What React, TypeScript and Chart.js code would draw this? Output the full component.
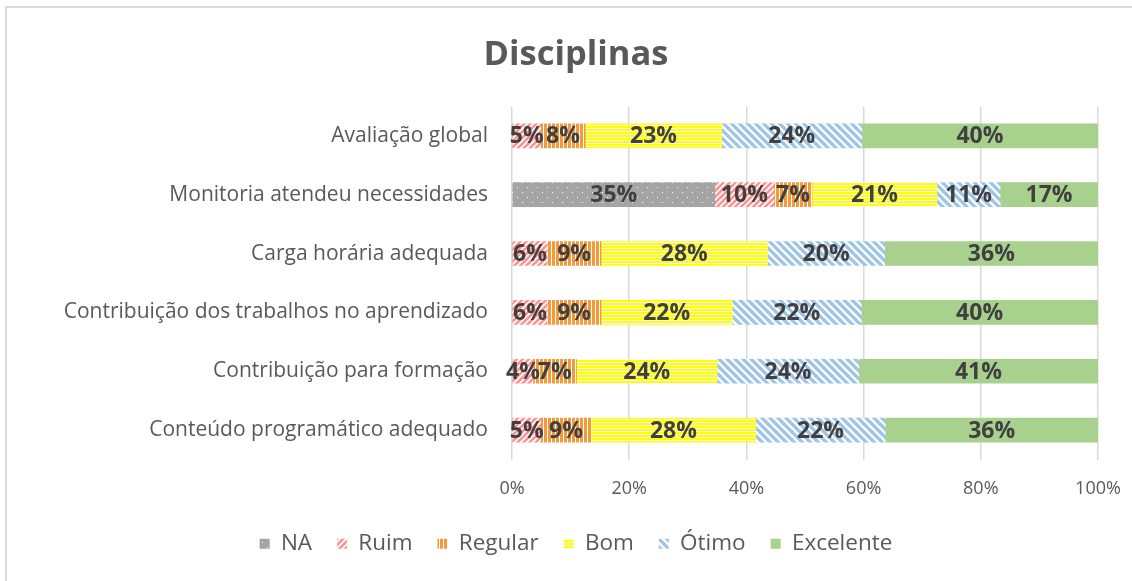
import React, { useEffect, useRef } from "react";
import { Chart, registerables } from "chart.js";

Chart.register(...registerables);

const categories = [
  "Avaliação global",
  "Monitoria atendeu necessidades",
  "Carga horária adequada",
  "Contribuição dos trabalhos no aprendizado",
  "Contribuição para formação",
  "Conteúdo programático adequado",
];

const seriesNames = ["NA", "Ruim", "Regular", "Bom", "Ótimo", "Excelente"];

const naValues = [0, 34.6, 0, 0, 0, 0];
const ruimValues = [4.9, 10.1, 6.0, 6.0, 3.6, 4.9];
const regularValues = [7.6, 6.5, 9.2, 9.2, 7.4, 8.6];
const bomValues = [23.3, 21.3, 28.4, 22.4, 24.0, 28.1];
const otimoValues = [23.9, 10.8, 20.0, 22.0, 24.2, 22.1];
const excelenteValues = [40.3, 16.7, 36.4, 40.4, 40.8, 36.3];

const xTicks = [0, 20, 40, 60, 80, 100];

const FONT = "'Open Sans', 'Noto Sans', sans-serif";

function makePattern(size: number, draw: (c: CanvasRenderingContext2D, s: number) => void) {
  const cv = document.createElement("canvas");
  cv.width = size;
  cv.height = size;
  const c = cv.getContext("2d")!;
  draw(c, size);
  return c.createPattern(cv, "repeat")!;
}

function buildPatterns() {
  const na = makePattern(10, (c, s) => {
    c.fillStyle = "#a5a5a5";
    c.fillRect(0, 0, s, s);
    c.fillStyle = "#ffffff";
    c.fillRect(2, 2, 1, 1);
    c.fillRect(7, 7, 1, 1);
  });
  const ruim = makePattern(6, (c, s) => {
    c.fillStyle = "#ffffff";
    c.fillRect(0, 0, s, s);
    c.strokeStyle = "#ff9090";
    c.lineWidth = 2.6;
    c.beginPath();
    c.moveTo(-1, s + 1);
    c.lineTo(s + 1, -1);
    c.moveTo(-1, 1);
    c.lineTo(1, -1);
    c.moveTo(s - 1, s + 1);
    c.lineTo(s + 1, s - 1);
    c.stroke();
  });
  const regular = makePattern(4, (c, s) => {
    c.fillStyle = "#ffffff";
    c.fillRect(0, 0, s, s);
    c.fillStyle = "#f59a3c";
    c.fillRect(0, 0, 3, s);
  });
  const bom = makePattern(3, (c, s) => {
    c.fillStyle = "#ffffff";
    c.fillRect(0, 0, s, s);
    c.fillStyle = "#ffff00";
    c.fillRect(0, 0, s, 2);
  });
  const otimo = makePattern(8, (c, s) => {
    c.fillStyle = "#ffffff";
    c.fillRect(0, 0, s, s);
    c.strokeStyle = "#9dc3e6";
    c.lineWidth = 3.2;
    c.beginPath();
    c.moveTo(-1, -1);
    c.lineTo(s + 1, s + 1);
    c.moveTo(s - 1, -1);
    c.lineTo(s + 1, 1);
    c.moveTo(-1, s - 1);
    c.lineTo(1, s + 1);
    c.stroke();
  });
  return [na, ruim, regular, bom, otimo, "#a9d18e"];
}

const labelPlugin = {
  id: "barLabels",
  afterDatasetsDraw(chart: any) {
    const ctx = chart.ctx;
    ctx.save();
    ctx.font = `bold 23px ${FONT}`;
    ctx.fillStyle = "#404040";
    ctx.textAlign = "center";
    ctx.textBaseline = "middle";
    chart.data.datasets.forEach((ds: any, i: number) => {
      const meta = chart.getDatasetMeta(i);
      meta.data.forEach((el: any, j: number) => {
        const v = ds.data[j];
        if (!v) return;
        const x = (el.x + el.base) / 2;
        ctx.fillText(Math.round(v) + "%", x, el.y + 1);
      });
    });
    ctx.restore();
  },
};

const borderPlugin = {
  id: "outerBorder",
  beforeDraw(chart: any) {
    const ctx = chart.ctx;
    ctx.save();
    ctx.fillStyle = "#ffffff";
    ctx.fillRect(0, 0, chart.width, chart.height);
    ctx.strokeStyle = "#d9d9d9";
    ctx.lineWidth = 2;
    ctx.strokeRect(6, 7, 3000, 3000);
    ctx.restore();
  },
};

export default function App() {
  const ref = useRef<HTMLCanvasElement>(null);

  useEffect(() => {
    const fills = buildPatterns();
    const seriesValues = [naValues, ruimValues, regularValues, bomValues, otimoValues, excelenteValues];
    const chart = new Chart(ref.current!, {
      type: "bar",
      data: {
        labels: categories,
        datasets: seriesNames.map((name, i) => ({
          label: name,
          data: seriesValues[i],
          backgroundColor: fills[i] as any,
          borderWidth: 0,
          barThickness: 24,
        })),
      },
      options: {
        indexAxis: "y",
        animation: false,
        responsive: true,
        maintainAspectRatio: false,
        layout: { padding: { top: 8, right: 34, bottom: 16, left: 54 } },
        scales: {
          x: {
            stacked: true,
            min: 0,
            max: 100,
            afterBuildTicks(scale: any) {
              scale.ticks = xTicks.map((v) => ({ value: v }));
            },
            afterFit(scale: any) {
              scale.height = 48;
            },
            grid: {
              color: "#d9d9d9",
              lineWidth: 1.5,
              drawTicks: true,
              tickLength: 16,
              tickColor: "rgba(0,0,0,0)",
            },
            border: { display: false },
            ticks: {
              padding: 3,
              color: "#595959",
              font: { family: FONT, size: 18 },
              callback: (v: any) => v + "%",
            },
          },
          y: {
            stacked: true,
            afterFit(scale: any) {
              scale.width = 512 - 54;
            },
            grid: { display: false, drawTicks: false },
            border: { display: false },
            ticks: {
              padding: 24,
              color: "#595959",
              font: { family: FONT, size: 21 },
            },
          },
        },
        plugins: {
          title: {
            display: true,
            text: "Disciplinas",
            color: "#595959",
            font: { family: FONT, size: 34.5, weight: "bold" },
            padding: { top: 26, bottom: 31 },
          },
          legend: {
            position: "bottom",
            labels: {
              boxWidth: 10,
              boxHeight: 10,
              padding: 25,
              color: "#595959",
              font: { family: FONT, size: 22.5 },
            },
          },
          tooltip: { enabled: false },
        },
      },
      plugins: [borderPlugin, labelPlugin],
    });
    return () => chart.destroy();
  }, []);

  return (
    <div style={{ position: "absolute", left: 0, top: 0, width: 1132, height: 581 }}>
      <canvas ref={ref} />
    </div>
  );
}
